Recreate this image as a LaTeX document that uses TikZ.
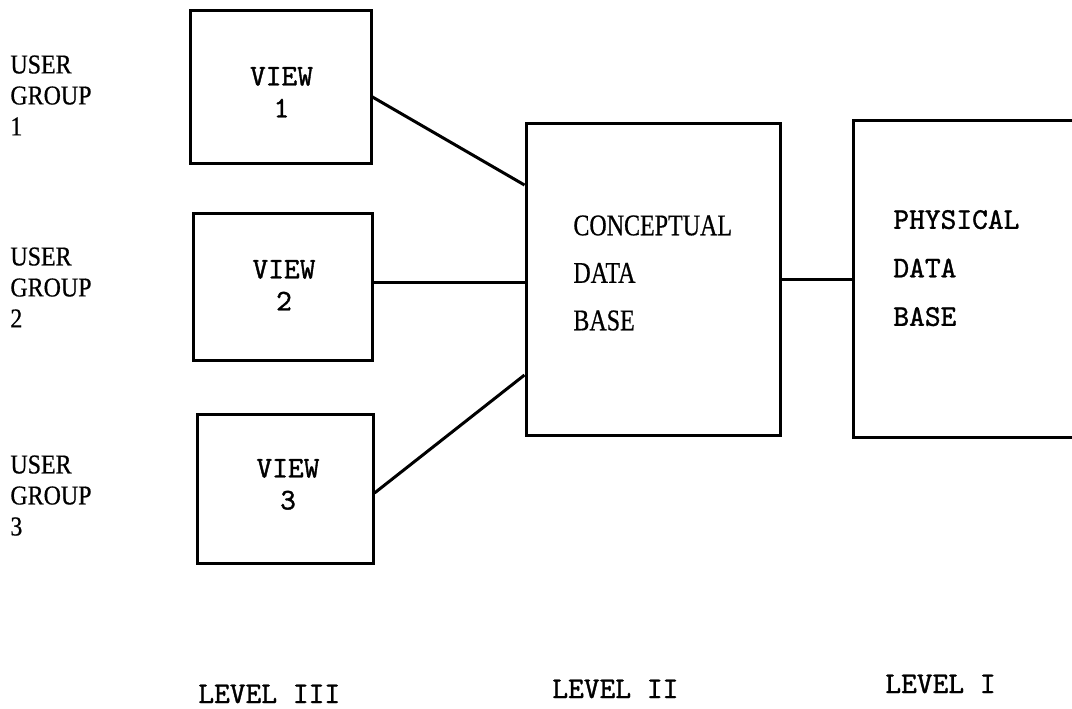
\documentclass[tikz,border=0pt]{standalone}
\usepackage{fontspec}
\newfontfamily\labelfont[FakeStretch=0.88,FakeBold=0.6]{Liberation Serif}
\newfontfamily\cdbfont[FakeStretch=0.8,FakeBold=0.6]{Liberation Serif}
\newfontfamily\twfont[FakeBold=1.2]{lmmono10-regular.otf}
\begin{document}
\begin{tikzpicture}[x=0.5pt,y=-0.5pt,
  box/.style={draw,line width=1.5pt,inner sep=0pt},
  conn/.style={line width=1.5pt},
  grp/.style={anchor=north west,align=left,inner sep=0pt,font=\labelfont\fontsize{13.6}{15.5}\selectfont},
  tw/.style={anchor=north,align=center,inner sep=0pt,font=\twfont\fontsize{15}{16}\selectfont},
  cdb/.style={anchor=north west,align=left,inner sep=0pt,font=\cdbfont\fontsize{15}{23.75}\selectfont},
  pdb/.style={anchor=north west,align=left,inner sep=0pt,font=\twfont\fontsize{15}{24.25}\selectfont},
  lvl/.style={anchor=base west,inner sep=0pt,font=\twfont\fontsize{15}{16}\selectfont}]
\useasboundingbox (0,0) rectangle (1072,708);
\clip (0,0) rectangle (1072,708);
% user groups
\node[grp] (g1) at (10,55) {USER\\GROUP\\1};
\node[grp] (g2) at (10,247) {USER\\GROUP\\2};
\node[grp] (g3) at (10,455) {USER\\GROUP\\3};
% views
\node[box,minimum width=90.5pt,minimum height=76.5pt] (v1) at (280.5,86.5) {};
\node[box,minimum width=89.5pt,minimum height=73.5pt] (v2) at (282.5,286.5) {};
\node[box,minimum width=88pt,minimum height=74.5pt] (v3) at (285,488.5) {};
\node[tw] (t1) at (281.5,66.7) {VIEW\\1};
\node[tw] (t2) at (284,259.7) {VIEW\\2};
\node[tw] (t3) at (288,458.7) {VIEW\\3};
% conceptual
\node[box,minimum width=127pt,minimum height=156pt] (c) at (653,279) {};
\node[cdb] (ct) at (573,215) {CONCEPTUAL\\DATA\\BASE};
% physical
\node[box,minimum width=133.5pt,minimum height=158.5pt] (p) at (986.5,278.5) {};
\node[pdb] (pt) at (893,209.7) {PHYSICAL\\DATA\\BASE};
% connectors
\draw[conn] ([yshift=-5.25pt]v1.east) -- ([yshift=47pt]c.west);
\draw[conn] ([yshift=2.25pt]v2.east) -- ([yshift=2.25pt]v2.east -| c.west);
\draw[conn] ([yshift=-2.25pt]v3.east) -- ([yshift=-48pt]c.west);
\draw[conn] (c.east) -- (c.east -| p.west);
% levels
\node[lvl] (l3) at (198,703) {LEVEL III};
\node[lvl] (l2) at (552,698) {LEVEL II};
\node[lvl] (l1) at (885,693) {LEVEL I};
\end{tikzpicture}
\end{document}
